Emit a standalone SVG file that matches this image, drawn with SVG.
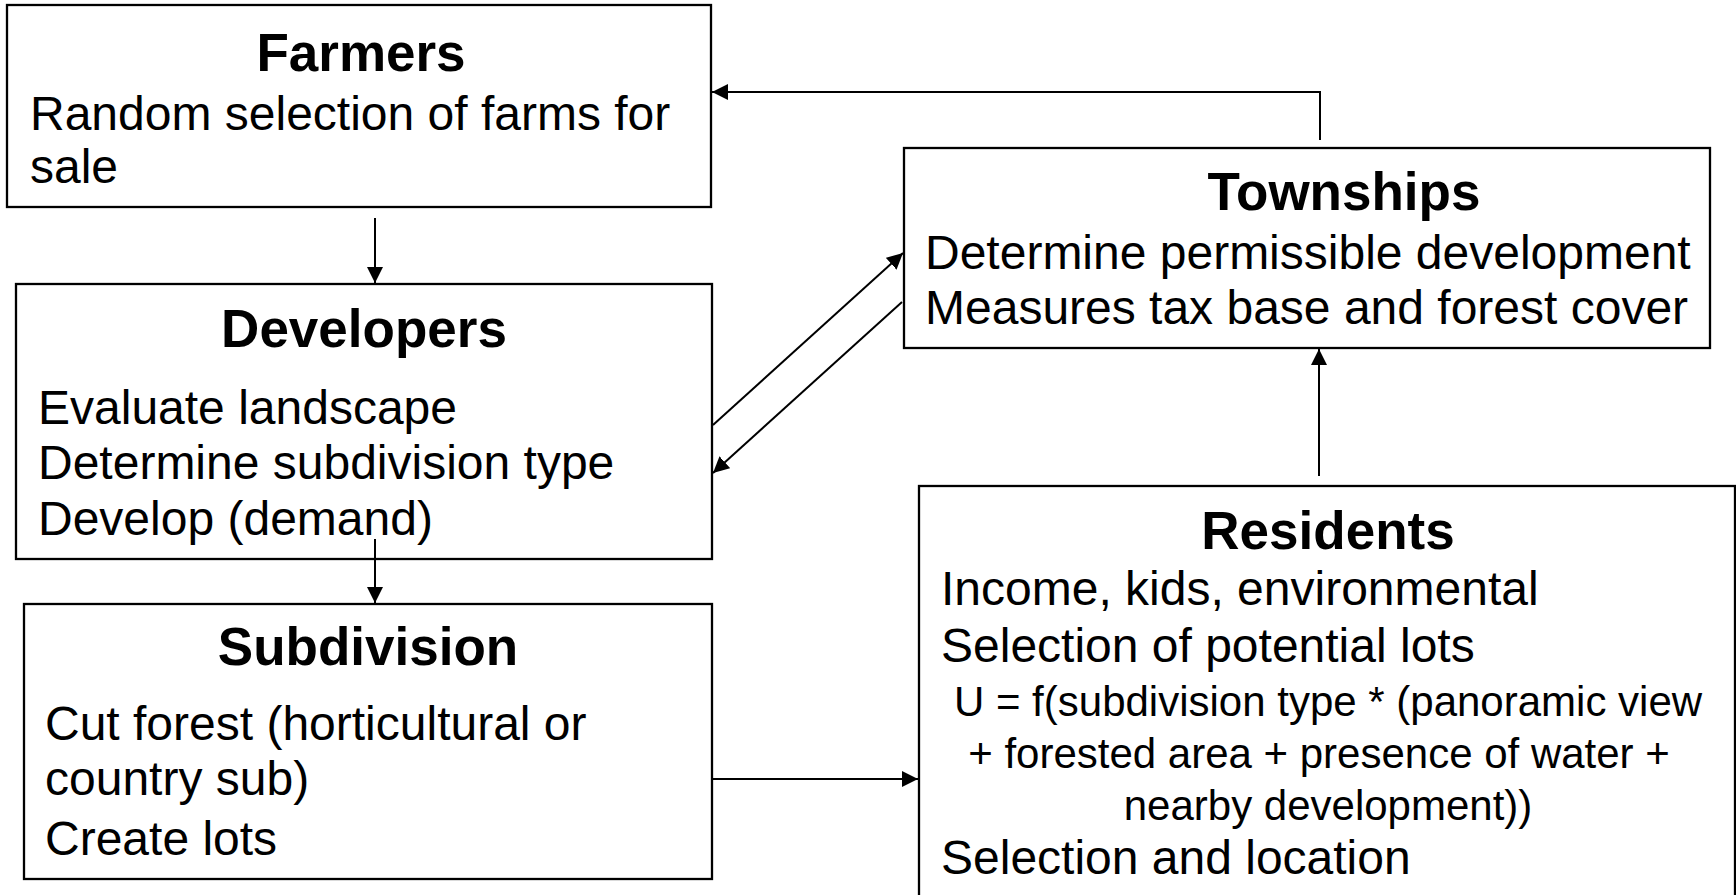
<svg xmlns="http://www.w3.org/2000/svg" width="1736" height="895" viewBox="0 0 1736 895">
<style>
.box{fill:#fff;stroke:#000;stroke-width:2.3}
.t{font-family:"Liberation Sans",Arial,sans-serif;font-weight:bold;font-size:53px;fill:#000;text-anchor:middle}
.b{font-family:"Liberation Sans",Arial,sans-serif;font-size:48px;fill:#000}
.f{font-family:"Liberation Sans",Arial,sans-serif;font-size:42px;fill:#000;text-anchor:middle}
.c{fill:none;stroke:#000;stroke-width:2}
</style>
<defs>
<marker id="ah" markerUnits="userSpaceOnUse" markerWidth="16" markerHeight="16" viewBox="0 0 16 16" refX="16" refY="8" orient="auto">
<path d="M0,0 L16,8 L0,16 Z" fill="#000"/>
</marker>
</defs>
<rect width="1736" height="895" fill="#fff"/>
<g id="farmers">
<rect class="box" x="7" y="5" width="704" height="202"/>
<text class="t" x="361" y="71">Farmers</text>
<text class="b" x="30" y="130">Random selection of farms for</text>
<text class="b" x="30" y="183">sale</text>
</g>
<g id="developers">
<rect class="box" x="16" y="284" width="696" height="275"/>
<text class="t" x="364" y="347">Developers</text>
<text class="b" x="38" y="424">Evaluate landscape</text>
<text class="b" x="38" y="479">Determine subdivision type</text>
<text class="b" x="38" y="535">Develop (demand)</text>
</g>
<g id="subdivision">
<rect class="box" x="24" y="604" width="688" height="275"/>
<text class="t" x="368" y="665">Subdivision</text>
<text class="b" x="45" y="740">Cut forest (horticultural or</text>
<text class="b" x="45" y="795">country sub)</text>
<text class="b" x="45" y="855">Create lots</text>
</g>
<g id="townships">
<rect class="box" x="904" y="148" width="806" height="200"/>
<text class="t" x="1344" y="210">Townships</text>
<text class="b" x="925" y="269">Determine permissible development</text>
<text class="b" x="925" y="324">Measures tax base and forest cover</text>
</g>
<g id="residents">
<rect class="box" x="919" y="486" width="816" height="420"/>
<text class="t" x="1328" y="549">Residents</text>
<text class="b" x="941" y="605">Income, kids, environmental</text>
<text class="b" x="941" y="662">Selection of potential lots</text>
<text class="f" x="1328" y="716">U = f(subdivision type * (panoramic view</text>
<text class="f" x="1319" y="768">+ forested area + presence of water +</text>
<text class="f" x="1328" y="820">nearby development))</text>
<text class="b" x="941" y="874">Selection and location</text>
</g>
<g id="connectors">
<path class="c" d="M375,218 L375,283" marker-end="url(#ah)"/>
<path class="c" d="M375,539 L375,603" marker-end="url(#ah)"/>
<path class="c" d="M711,779 L918,779" marker-end="url(#ah)"/>
<path class="c" d="M1319,476 L1319,349" marker-end="url(#ah)"/>
<path class="c" d="M1320,140 L1320,92 L712,92" marker-end="url(#ah)"/>
<path class="c" stroke-width="1.5" d="M713,425 L903,253" marker-end="url(#ah)"/>
<path class="c" stroke-width="1.5" d="M902,302 L713,473" marker-end="url(#ah)"/>
</g>
</svg>
